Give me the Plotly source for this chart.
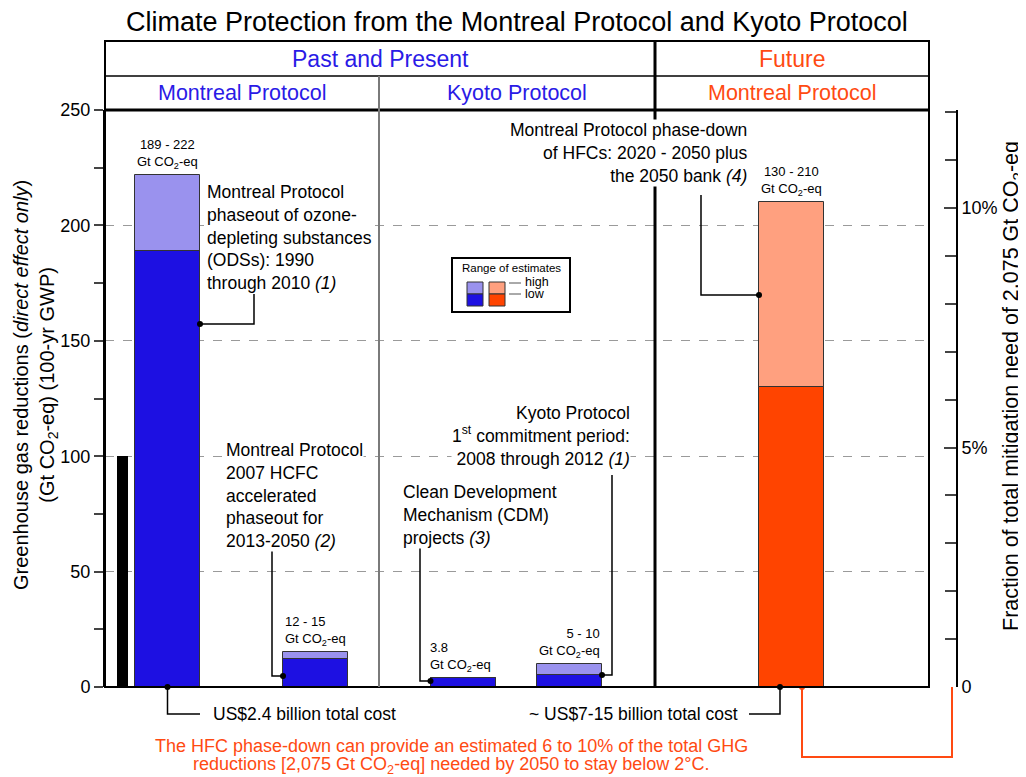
import plotly.graph_objects as go

# ---------------- data ----------------
bar_labels = ["ODS phaseout 1990-2010", "HCFC accelerated phaseout 2013-2050",
              "CDM projects", "Kyoto 1st commitment period 2008-2012",
              "HFC phase-down 2020-2050 + bank"]
low_values = [189, 12, 3.8, 5, 130]
high_values = [222, 15, 3.8, 10, 210]
range_labels = ["189 - 222", "12 - 15", "3.8", "5 - 10", "130 - 210"]
reference_value = [100]
total_mitigation_need = 2075          # Gt CO2-eq
right_tick_pct = [0, 5, 10]
right_tick_text = ["0", "5%", "10%"]
left_tick_vals = [0, 50, 100, 150, 200, 250]

# ---------------- layout constants ----------------
PAGE_OFF = 8                     # default page body margin
W, H = 1026, 777
L, R_PLOT, R_AX, T, B = 105, 929, 957, 110, 687
YMAX = 250
FONT = "Liberation Sans, Arial, sans-serif"
BLUE_D, BLUE_L = "#1d10e2", "#9a92ee"
ORG_D, ORG_L = "#ff4400", "#ffa07f"
BLUE_TXT, ORG_TXT = "#2a1ae6", "#ff4a12"

bar_x = [62.5, 210.5, 358, 464.5, 686.5]   # bar centres (x axis units)
bar_w = 65
ref_x, ref_w = 17, 11
dark_cols = [BLUE_D] * 4 + [ORG_D]
light_cols = [BLUE_L] * 4 + [ORG_L]

def px_x(px): return (px - L) / (R_AX - L)
def px_y(py): return (B - py) / (B - T)
def dx(u): return u / (R_AX - L)
def dy(v): return v / YMAX

PXU = (B - T) / YMAX  # pixels per unit

def v_of(py): return (B - py) / PXU

fig = go.Figure()

fig.add_trace(go.Bar(x=bar_x, y=high_values, width=[bar_w] * 5,
                     marker=dict(color=light_cols, line=dict(color="#333333", width=1)),
                     name="high", showlegend=False, hoverinfo="skip"))
fig.add_trace(go.Bar(x=bar_x, y=low_values, width=[bar_w] * 5,
                     marker=dict(color=dark_cols, line=dict(color="#333333", width=1)),
                     name="low", showlegend=False, hoverinfo="skip"))
fig.add_trace(go.Bar(x=[ref_x], y=reference_value, width=[ref_w],
                     marker=dict(color="black", line=dict(width=0)),
                     showlegend=False, hoverinfo="skip"))
fig.add_trace(go.Scatter(x=[0], y=[0], yaxis="y2", mode="markers",
                         marker=dict(opacity=0), showlegend=False, hoverinfo="skip"))

edge_l = [c - bar_w / 2 for c in bar_x]
edge_r = [c + bar_w / 2 for c in bar_x]

shapes = []
annotations = []

def line_path(pts, color="black", width=1.5):
    d = "M " + " L ".join(f"{dx(u):.5f},{dy(v):.5f}" for u, v in pts)
    shapes.append(dict(type="path", path=d, xref="paper", yref="paper",
                       line=dict(color=color, width=width)))

below1 = v_of(714)
below2 = v_of(757)
RA = R_AX - L - 5
line_path([(edge_r[0], v_of(324)), (149, v_of(324)), (149, v_of(294))])
line_path([(167, v_of(548)), (167, v_of(676)), (edge_l[1], v_of(676))])
line_path([(bar_x[0], 0), (bar_x[0], below1), (95, below1)])
line_path([(315, v_of(545)), (315, v_of(681)), (edge_l[2], v_of(681))])
line_path([(507, v_of(475)), (507, v_of(675)), (edge_r[3], v_of(675))])
line_path([(596, v_of(195)), (596, v_of(295)), (edge_l[4], v_of(295))])
line_path([(675, 0), (675, below1), (644, below1)])
line_path([(697, 0), (697, below2), (RA, below2), (RA, 0)], color=ORG_TXT, width=2)

fig.add_trace(go.Scatter(
    x=[edge_r[0], edge_l[1], bar_x[0], edge_l[2], edge_r[3], edge_l[4], 675],
    y=[v_of(324), v_of(676), 0, v_of(681), v_of(675), v_of(295), 0],
    mode="markers", marker=dict(color="black", size=6), cliponaxis=False,
    showlegend=False, hoverinfo="skip"))
fig.add_trace(go.Scatter(
    x=[697, RA], y=[0, 0],
    mode="markers", marker=dict(color=ORG_TXT, size=6), cliponaxis=False,
    showlegend=False, hoverinfo="skip"))

# frame / header
shapes.append(dict(type="rect", xref="paper", yref="paper", x0=px_x(L), x1=px_x(R_PLOT),
                   y0=px_y(B), y1=px_y(41), line=dict(color="black", width=2)))
shapes.append(dict(type="line", xref="paper", yref="paper", x0=px_x(L), x1=px_x(R_PLOT),
                   y0=px_y(76), y1=px_y(76), line=dict(color="black", width=1.5)))
shapes.append(dict(type="line", xref="paper", yref="paper", x0=px_x(L), x1=px_x(R_PLOT),
                   y0=px_y(T), y1=px_y(T), line=dict(color="black", width=3)))
shapes.append(dict(type="line", xref="paper", yref="paper", x0=px_x(379), x1=px_x(379),
                   y0=px_y(76), y1=px_y(B), line=dict(color="#7a7a7a", width=2)))
shapes.append(dict(type="line", xref="paper", yref="paper", x0=px_x(655), x1=px_x(655),
                   y0=px_y(41), y1=px_y(B), line=dict(color="black", width=3)))

def ann(text, x, y, size=16, color="black", xanchor="center", yanchor="middle", align="center", **kw):
    annotations.append(dict(text=text, x=x, y=y, xref="paper", yref="paper", showarrow=False,
                            font=dict(family=FONT, size=size, color=color),
                            xanchor=xanchor, yanchor=yanchor, align=align, **kw))

ann("Climate Protection from the Montreal Protocol and Kyoto Protocol", px_x(517), px_y(22), size=27)
ann("Past and Present", px_x(380), px_y(59), size=23, color=BLUE_TXT)
ann("Future", px_x(792), px_y(59), size=23, color=ORG_TXT)
ann("Montreal Protocol", px_x(242), px_y(93), size=21.5, color=BLUE_TXT)
ann("Kyoto Protocol", px_x(517), px_y(93), size=21.5, color=BLUE_TXT)
ann("Montreal Protocol", px_x(792), px_y(93), size=21.5, color=ORG_TXT)

co2 = "Gt CO<sub>2</sub>-eq"
ann(f"{range_labels[0]}<br>{co2}", dx(bar_x[0]), dy(high_values[0]), size=13, yanchor="bottom", yshift=2)
ann(f"{range_labels[1]}<br>{co2}", dx(edge_l[1]), dy(high_values[1]), size=13, xanchor="left", align="left", yanchor="bottom", yshift=2)
ann(f"{range_labels[2]}<br>{co2}", dx(edge_l[2]) - 0.003, dy(high_values[2]), size=13, xanchor="left", align="left", yanchor="bottom", yshift=2)
ann(f"{range_labels[3]}<br>{co2}", dx(edge_r[3]), dy(high_values[3]), size=13, xanchor="right", align="right", yanchor="bottom", yshift=2)
ann(f"{range_labels[4]}<br>{co2}", dx(bar_x[4]), dy(high_values[4]), size=13, yanchor="bottom", yshift=2)

TS = 17.5
BG = dict(bgcolor="white", borderpad=0)
ann("Montreal Protocol<br>phaseout of ozone-<br>depleting substances<br>(ODSs): 1990<br>through 2010 <i>(1)</i>",
    px_x(206), px_y(181), size=TS, xanchor="left", yanchor="top", align="left", **BG)
ann("Montreal Protocol<br>2007 HCFC<br>accelerated<br>phaseout for<br>2013-2050 <i>(2)</i>",
    px_x(225), px_y(439), size=TS, xanchor="left", yanchor="top", align="left", **BG)
ann("Clean Development<br>Mechanism (CDM)<br>projects <i>(3)</i>",
    px_x(402), px_y(481), size=TS, xanchor="left", yanchor="top", align="left", **BG)
ann("Kyoto Protocol<br>1<sup>st</sup> commitment period:<br>2008 through 2012 <i>(1)</i>",
    px_x(631), px_y(402), size=TS, xanchor="right", yanchor="top", align="right", **BG)
ann("Montreal Protocol phase-down<br>of HFCs: 2020 - 2050 plus<br>the 2050 bank <i>(4)</i>",
    px_x(749), px_y(119), size=TS, xanchor="right", yanchor="top", align="right", **BG)
ann("US$2.4 billion total cost", px_x(211), px_y(714), size=TS, xanchor="left")
ann("~ US$7-15 billion total cost", px_x(740), px_y(714), size=TS, xanchor="right")
ann("The HFC phase-down can provide an estimated 6 to 10% of the total GHG",
    px_x(451), px_y(746), size=18, color=ORG_TXT)
ann("reductions [2,075 Gt CO<sub>2</sub>-eq] needed by 2050 to stay below 2°C.",
    px_x(451), px_y(765), size=18, color=ORG_TXT)

ann("Greenhouse gas reductions (<i>direct effect only</i>)<br>(Gt CO<sub>2</sub>-eq) (100-yr GWP)",
    px_x(35), px_y(385), size=20, textangle=-90)
ann("Fraction of total mitigation need of 2,075 Gt CO<sub>2</sub>-eq",
    px_x(1012), px_y(386), size=21.5, textangle=-90)

# legend (range of estimates)
shapes.append(dict(type="rect", xref="paper", yref="paper", x0=px_x(452), x1=px_x(570),
                   y0=px_y(312), y1=px_y(258), line=dict(color="black", width=2), fillcolor="white"))
ann("Range of estimates", px_x(511), px_y(268), size=11.5)
for x0, cl, cd in [(467, BLUE_L, BLUE_D), (489, ORG_L, ORG_D)]:
    shapes.append(dict(type="rect", xref="paper", yref="paper", x0=px_x(x0), x1=px_x(x0 + 16),
                       y0=px_y(294), y1=px_y(282), fillcolor=cl, line=dict(color="#333", width=1)))
    shapes.append(dict(type="rect", xref="paper", yref="paper", x0=px_x(x0), x1=px_x(x0 + 16),
                       y0=px_y(306), y1=px_y(294), fillcolor=cd, line=dict(color="#333", width=1)))
for yy in (283, 294):
    shapes.append(dict(type="line", xref="paper", yref="paper", x0=px_x(509), x1=px_x(521),
                       y0=px_y(yy), y1=px_y(yy), line=dict(color="#555", width=1)))
ann("high", px_x(523), px_y(282), size=12.5, xanchor="left")
ann("low", px_x(523), px_y(294), size=12.5, xanchor="left")

fig.update_layout(
    width=W - PAGE_OFF, height=H - PAGE_OFF,
    margin=dict(l=L - PAGE_OFF, r=W - R_AX, t=T - PAGE_OFF, b=H - B, pad=0),
    paper_bgcolor="white", plot_bgcolor="white",
    barmode="overlay", bargap=0,
    font=dict(family=FONT, size=17, color="black"),
    xaxis=dict(range=[0, R_PLOT - L], domain=[0, (R_PLOT - L) / (R_AX - L)],
               visible=False, fixedrange=True),
    yaxis=dict(range=[0, YMAX], tickvals=left_tick_vals, ticks="outside", ticklen=9,
               tickwidth=2, showline=True, linewidth=2, linecolor="black",
               showgrid=True, gridcolor="#9a9a9a", griddash="dash", gridwidth=1,
               zeroline=False, tickfont=dict(size=18),
               minor=dict(dtick=25, ticks="outside", ticklen=9, tickwidth=2, showgrid=False)),
    yaxis2=dict(range=[0, YMAX / total_mitigation_need * 100], overlaying="y", side="right",
                anchor="free", position=1, tickvals=right_tick_pct, ticktext=right_tick_text,
                ticks="inside", ticklen=12, tickwidth=2, showline=True, linewidth=2,
                linecolor="black", showgrid=False, zeroline=False, tickfont=dict(size=18),
                minor=dict(dtick=1, ticks="inside", ticklen=11, tickwidth=2, showgrid=False)),
    shapes=shapes, annotations=annotations, showlegend=False,
)

fig.write_html("out.html")
